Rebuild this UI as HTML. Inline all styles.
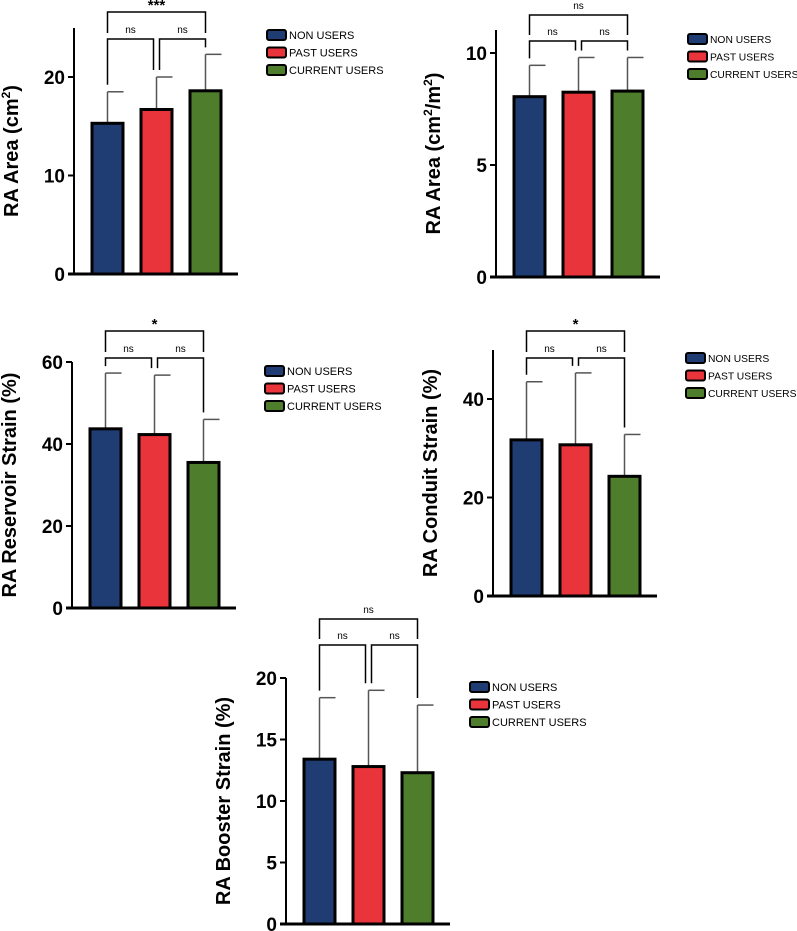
<!DOCTYPE html>
<html><head><meta charset="utf-8"><style>
body{margin:0;background:#fff;}
svg{display:block;font-family:"Liberation Sans",Arial,sans-serif;}
</style></head><body>
<svg id="fig" width="797" height="931" viewBox="0 0 797 931"></svg>
<script>
const groups = ["NON USERS","PAST USERS","CURRENT USERS"];
const colors = ["#1f3d73","#e8343a","#4e7d2c"];
const areaMeans = [15.3, 16.7, 18.6];
const areaErr = [18.5, 20.0, 22.3];
const areaIdxMeans = [8.05, 8.25, 8.3];
const areaIdxErr = [9.45, 9.8, 9.8];
const reservoirMeans = [43.7, 42.3, 35.5];
const reservoirErr = [57.3, 56.8, 46.0];
const conduitMeans = [31.7, 30.7, 24.3];
const conduitErr = [43.5, 45.3, 32.8];
const boosterMeans = [13.4, 12.8, 12.3];
const boosterErr = [18.4, 19.0, 17.8];
const areaTicks = [0, 10, 20];
const areaIdxTicks = [0, 5, 10];
const reservoirTicks = [0, 20, 40, 60];
const conduitTicks = [0, 20, 40];
const boosterTicks = [0, 5, 10, 15, 20];
const sigLabels = [["ns","ns","***"],["ns","ns","ns"],["ns","ns","*"],["ns","ns","*"],["ns","ns","ns"]];

const svg = document.getElementById('fig');
const NS = 'http://www.w3.org/2000/svg';
function mk(tag, attrs, parent){
  const e = document.createElementNS(NS, tag);
  for (const k in attrs) e.setAttribute(k, attrs[k]);
  (parent||svg).appendChild(e);
  return e;
}

const charts = [
  {key:'ra-area', head:'RA Area (cm', supTxt:'2', tail:')', axisX:74, zeroY:274, ppu:9.85, top:28, means:areaMeans, errs:areaErr, ticks:areaTicks, topBr:12, nsBr:39, legX:267, legY:35, legFs:11},
  {key:'ra-area-index', head:'RA Area (cm', supTxt:'2', tail:'/m', sup2:'2', tail2:')', axisX:496, zeroY:277, ppu:22.4, top:30, means:areaIdxMeans, errs:areaIdxErr, ticks:areaIdxTicks, topBr:15, nsBr:41, legX:688, legY:39, legFs:10.3},
  {key:'ra-reservoir-strain', title:'RA Reservoir Strain (%)', axisX:72, zeroY:608, ppu:4.1, top:null, means:reservoirMeans, errs:reservoirErr, ticks:reservoirTicks, topBr:331, nsBr:358, legX:265, legY:371, legFs:11},
  {key:'ra-conduit-strain', title:'RA Conduit Strain (%)', axisX:493, zeroY:596, ppu:4.925, top:350, means:conduitMeans, errs:conduitErr, ticks:conduitTicks, topBr:331, nsBr:358, legX:686, legY:358, legFs:10.3},
  {key:'ra-booster-strain', title:'RA Booster Strain (%)', axisX:286, zeroY:924, ppu:12.3, top:null, means:boosterMeans, errs:boosterErr, ticks:boosterTicks, topBr:619, nsBr:645, legX:470, legY:687, legFs:11}
];

charts.forEach((c, ci) => {
  const g = mk('g', {});
  
  
  const y = v => c.zeroY - v * c.ppu;
  const barX = i => c.axisX + 18 + i * 49;
  const bw = 31;
  const maxTick = c.ticks[c.ticks.length - 1];
  const axTop = c.top !== null ? c.top : y(maxTick);
  c.means.forEach((m, i) => {
    const cx = barX(i) + bw / 2;
    const el = mk('line', {x1:cx, x2:cx, y1:y(m), y2:y(c.errs[i]), stroke:'#555', 'stroke-width':1.5}, g);
    
    
    const cap = mk('line', {x1:cx, x2:cx + 16, y1:y(c.errs[i]), y2:y(c.errs[i]), stroke:'#555', 'stroke-width':1.5}, g);
    
    
    const r = mk('rect', {x:barX(i), y:y(m), width:bw, height:c.zeroY - y(m), fill:colors[i], stroke:'#000', 'stroke-width':3}, g);
    
    
  });
  const ya = mk('line', {x1:c.axisX, x2:c.axisX, y1:axTop, y2:c.zeroY + 1.5, stroke:'#000', 'stroke-width':2}, g);
  
  
  const xa = mk('line', {x1:c.axisX - 6, x2:c.axisX + 164, y1:c.zeroY, y2:c.zeroY, stroke:'#000', 'stroke-width':3}, g);
  
  
  c.ticks.forEach(t => {
    const tk = mk('line', {x1:c.axisX - 6, x2:c.axisX, y1:y(t), y2:y(t), stroke:'#000', 'stroke-width':2}, g);
    
    
    const tl = mk('text', {x:c.axisX - 9, y:y(t) + 7, 'text-anchor':'end', 'font-size':19, 'font-weight':'bold'}, g);
    tl.textContent = t;
    
    
  });
  const tx = c.axisX - 56, ty = (axTop + c.zeroY) / 2;
  const tt = mk('text', {x:tx, y:ty, transform:`rotate(-90 ${tx} ${ty})`, 'text-anchor':'middle', 'font-size':20, 'font-weight':'bold'}, g);
  
  
  if (c.head) {
    tt.appendChild(document.createTextNode(c.head));
    const s1 = mk('tspan', {'font-size':12, dy:-8}, tt); s1.textContent = c.supTxt;
    const t1 = mk('tspan', {dy:8}, tt); t1.textContent = c.tail;
    if (c.sup2) {
      const s2 = mk('tspan', {'font-size':12, dy:-8}, tt); s2.textContent = c.sup2;
      const t2 = mk('tspan', {dy:8}, tt); t2.textContent = c.tail2;
    }
  } else tt.textContent = c.title;
  const cx = i => barX(i) + bw / 2;
  const pairs = [[0,1],[1,2],[0,2]];
  pairs.forEach((p, k) => {
    const by = k === 2 ? c.topBr : c.nsBr;
    const xl = cx(p[0]) + (k === 1 ? 3 : 0), xr = cx(p[1]) - (k === 0 ? 3 : 0);
    const botL = k === 2 ? c.nsBr - 6 : Math.max(by + 6, y(c.errs[p[0]]) - 7);
    const botR = k === 2 ? c.nsBr - 6 : Math.max(by + 6, y(c.errs[p[1]]) - 7);
    const pl = mk('polyline', {points:`${xl},${botL} ${xl},${by} ${xr},${by} ${xr},${botR}`, fill:'none', stroke:'#000', 'stroke-width':1.5}, g);
    
    
    const lab = sigLabels[ci][k];
    const st = mk('text', {x:(xl + xr) / 2, y: by - (lab === 'ns' ? 6 : 2), 'text-anchor':'middle', 'font-size': lab === 'ns' ? 10 : 15, 'font-weight': lab === 'ns' ? 'normal' : 'bold'}, g);
    st.textContent = lab;
    
    
  });
  groups.forEach((gname, i) => {
    const ly = c.legY + i * 17.5;
    const sw = mk('rect', {x:c.legX, y:ly - 5, width:19, height:10, rx:2, fill:colors[i], stroke:'#000', 'stroke-width':2}, g);
    
    
    const lt = mk('text', {x:c.legX + 22, y:ly + 4, 'font-size':c.legFs}, g);
    lt.textContent = gname;
    
    
  });
});
</script>
</body></html>
